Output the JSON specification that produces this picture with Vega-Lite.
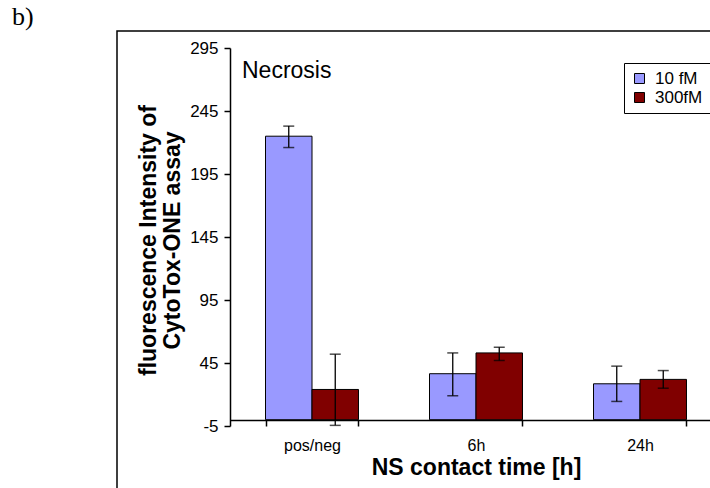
{
  "$schema": "https://vega.github.io/schema/vega-lite/v6.json",
  "autosize": {"type": "none"},
  "padding": {"left": 117, "top": 31, "right": -7, "bottom": -7},
  "width": 600,
  "height": 464,
  "background": "white",
  "title": {"text": "b)", "anchor": "start", "frame": "group", "dx": -105, "offset": 1, "font": "Liberation Serif", "fontSize": 26, "fontWeight": "normal", "color": "black"},
  "config": {
    "view": {"stroke": "black", "strokeWidth": 1.5},
    "legend": {"orient": "none", "legendX": 507, "legendY": 32, "symbolType": "square", "symbolSize": 100, "symbolStrokeColor": "black", "symbolStrokeWidth": 1, "labelFont": "Liberation Sans", "labelFontSize": 17, "labelColor": "black", "padding": 7, "rowPadding": 1, "labelOffset": 7, "strokeColor": "black", "fillColor": "white", "titleFontSize": 0}
  },
  "data": {"values": [
    {"time": "pos/neg", "conc": "10 fM", "value": 225, "lo": 216, "hi": 233},
    {"time": "pos/neg", "conc": "300fM", "value": 24, "lo": -4.5, "hi": 52},
    {"time": "6h", "conc": "10 fM", "value": 36.5, "lo": 19, "hi": 53},
    {"time": "6h", "conc": "300fM", "value": 53, "lo": 47, "hi": 57.5},
    {"time": "24h", "conc": "10 fM", "value": 28.5, "lo": 14.5, "hi": 42.5},
    {"time": "24h", "conc": "300fM", "value": 32, "lo": 25, "hi": 39}
  ]},
  "layer": [
    {
      "mark": {"type": "bar", "stroke": "black", "strokeWidth": 1},
      "encoding": {
        "x": {"field": "time", "type": "nominal", "sort": ["pos/neg", "6h", "24h"],
          "scale": {"range": [113, 605], "paddingInner": 0.433, "paddingOuter": 0.2165},
          "axis": {"orient": "bottom", "offset": -75, "tickBand": "extent", "tickSize": 6, "tickColor": "black", "tickWidth": 1.5, "domainColor": "black", "domainWidth": 1.5, "labelFont": "Liberation Sans", "labelFontSize": 16, "labelColor": "black", "labelBaseline": "alphabetic", "labelPadding": 24, "labelAngle": 0, "title": "NS contact time [h]", "titleFont": "Liberation Sans", "titleFontSize": 23, "titleFontWeight": "bold", "titleColor": "black", "titleBaseline": "alphabetic", "titleY": 54}},
        "xOffset": {"field": "conc", "type": "nominal", "sort": ["10 fM", "300fM"], "scale": {"paddingInner": 0, "paddingOuter": 0}},
        "y": {"field": "value", "type": "quantitative",
          "scale": {"domain": [-5, 295], "range": [395, 17], "nice": false, "zero": false},
          "axis": {"orient": "left", "offset": -113, "values": [-5, 45, 95, 145, 195, 245, 295], "labelExpr": "'' + datum.value", "grid": false, "tickSize": 6, "tickColor": "black", "tickWidth": 1.5, "domainColor": "black", "domainWidth": 1.5, "labelFont": "Liberation Sans", "labelFontSize": 17, "labelColor": "black", "labelPadding": 6, "title": ["fluorescence Intensity of", "CytoTox-ONE assay"], "titleFont": "Liberation Sans", "titleFontSize": 23, "titleFontWeight": "bold", "titleColor": "black", "titleAngle": -90, "titleAlign": "center", "titleBaseline": "alphabetic", "titleX": -75, "titleY": 209, "titleLineHeight": 24}},
        "y2": {"datum": 0},
        "color": {"field": "conc", "type": "nominal", "sort": ["10 fM", "300fM"], "scale": {"domain": ["10 fM", "300fM"], "range": ["#9999FF", "#800000"]}, "legend": {"title": null}}
      }
    },
    {
      "mark": {"type": "rule", "color": "black", "strokeWidth": 1.3},
      "encoding": {
        "x": {"field": "time", "type": "nominal", "sort": ["pos/neg", "6h", "24h"]},
        "xOffset": {"field": "conc", "type": "nominal", "sort": ["10 fM", "300fM"]},
        "y": {"field": "lo", "type": "quantitative"},
        "y2": {"field": "hi"}
      }
    },
    {
      "mark": {"type": "tick", "color": "black", "size": 11, "thickness": 1.5, "orient": "horizontal"},
      "encoding": {
        "x": {"field": "time", "type": "nominal", "sort": ["pos/neg", "6h", "24h"]},
        "xOffset": {"field": "conc", "type": "nominal", "sort": ["10 fM", "300fM"]},
        "y": {"field": "lo", "type": "quantitative"}
      }
    },
    {
      "mark": {"type": "tick", "color": "black", "size": 11, "thickness": 1.5, "orient": "horizontal"},
      "encoding": {
        "x": {"field": "time", "type": "nominal", "sort": ["pos/neg", "6h", "24h"]},
        "xOffset": {"field": "conc", "type": "nominal", "sort": ["10 fM", "300fM"]},
        "y": {"field": "hi", "type": "quantitative"}
      }
    },
    {
      "data": {"values": [{"label": "Necrosis"}]},
      "mark": {"type": "text", "align": "left", "baseline": "alphabetic", "dx": -70, "font": "Liberation Sans", "fontSize": 23, "color": "black"},
      "encoding": {
        "x": {"datum": "pos/neg"},
        "y": {"datum": 271},
        "text": {"field": "label"}
      }
    }
  ]
}
